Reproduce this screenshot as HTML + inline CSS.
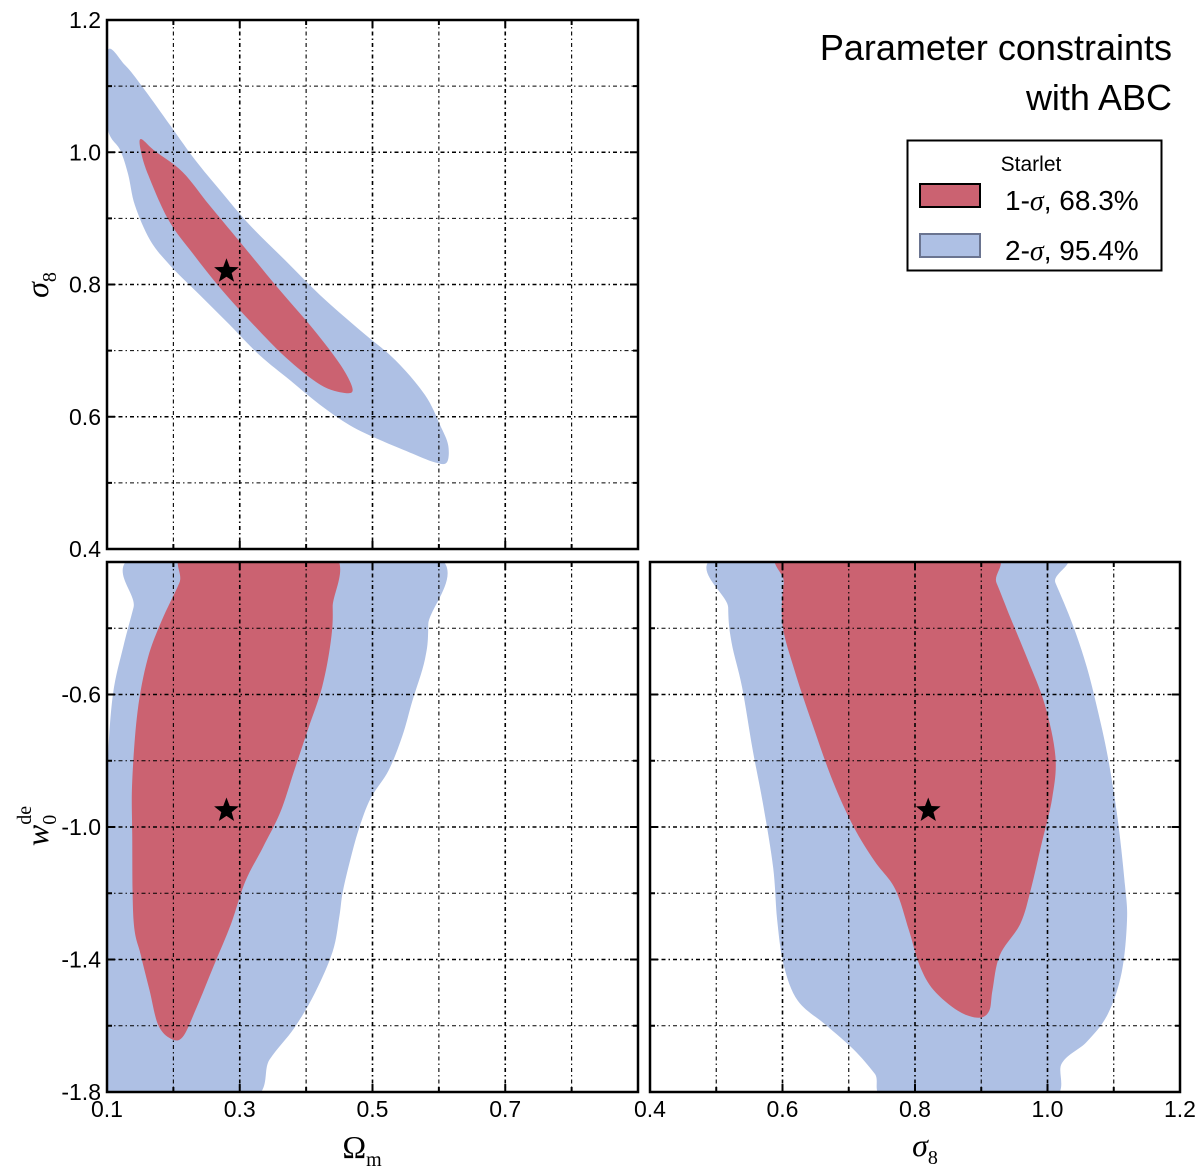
<!DOCTYPE html>
<html><head><meta charset="utf-8">
<style>
html,body{margin:0;padding:0;background:#fff;}
svg{display:block;}
text{font-family:"Liberation Sans",sans-serif;}
.serif{font-family:"Liberation Serif",serif;}
</style></head>
<body>
<svg id="chart" width="1200" height="1168" viewBox="0 0 1200 1168" xmlns="http://www.w3.org/2000/svg">
<defs>
<clipPath id="c1"><rect x="107" y="20" width="531" height="529"/></clipPath>
<clipPath id="c2"><rect x="107" y="562" width="531" height="530"/></clipPath>
<clipPath id="c3"><rect x="650" y="562" width="530" height="530"/></clipPath>
</defs>
<g id="p1"></g>
<g id="p2"></g>
<g id="p3"></g>

<text x="1172" y="60" font-size="36" text-anchor="end">Parameter constraints</text>
<text x="1172" y="110" font-size="36" text-anchor="end">with ABC</text>

<g>
<rect x="907.5" y="140.5" width="254" height="130" fill="#fff" stroke="#000" stroke-width="2"/>
<text x="1031" y="171" font-size="21" text-anchor="middle">Starlet</text>
<rect x="920" y="184" width="60" height="23" fill="#cb6271" stroke="#000" stroke-width="2"/>
<text x="1005" y="210" font-size="28">1-<tspan class="serif" font-style="italic">σ</tspan>, 68.3%</text>
<rect x="920" y="234" width="60" height="23" fill="#aec0e4" stroke="#6a7490" stroke-width="2"/>
<text x="1005" y="260" font-size="28">2-<tspan class="serif" font-style="italic">σ</tspan>, 95.4%</text>
</g>

<text class="serif" x="362" y="1158" font-size="32" text-anchor="middle">Ω<tspan font-size="20" dy="8">m</tspan></text>
<text class="serif" x="925" y="1156" font-size="32" text-anchor="middle" font-style="italic">σ<tspan font-size="20" dy="8" font-style="normal">8</tspan></text>
<text class="serif" transform="translate(48,285) rotate(-90)" font-size="32" text-anchor="middle" font-style="italic">σ<tspan font-size="20" dy="8" font-style="normal">8</tspan></text>
<text class="serif" transform="translate(48,826) rotate(-90)" font-size="32" text-anchor="middle" font-style="italic">w<tspan font-size="20" dy="8" font-style="normal">0</tspan><tspan font-size="20" dx="-10" dy="-25" font-style="normal">de</tspan></text>
</svg>
<script>
// ---- data ----
const star = {om: 0.28, s8: 0.82, w0: -0.95};
// panel 1: Omega_m (x) vs sigma8 (y)
const p1BlueX = [0.1,0.127,0.157,0.195,0.233,0.270,0.315,0.368,0.421,0.481,0.534,0.579,0.602,0.614,0.612,0.594,0.556,0.511,0.466,0.421,0.376,0.330,0.285,0.240,0.195,0.165,0.142,0.132,0.120,0.1];
const p1BlueY = [1.152,1.132,1.094,1.041,0.988,0.943,0.890,0.837,0.784,0.731,0.686,0.633,0.587,0.557,0.531,0.531,0.546,0.565,0.587,0.618,0.655,0.693,0.739,0.784,0.829,0.867,0.920,0.966,1.003,1.041];
const p1RedX = [0.151,0.172,0.214,0.255,0.308,0.359,0.412,0.452,0.470,0.458,0.422,0.370,0.318,0.272,0.230,0.193,0.162,0.151];
const p1RedY = [1.020,1.002,0.970,0.919,0.855,0.793,0.731,0.678,0.642,0.636,0.648,0.689,0.742,0.793,0.846,0.897,0.966,1.002];
// panel 2: Omega_m (x) vs w0 (y)
const p2BlueX = [0.161,0.581,0.584,0.579,0.560,0.545,0.524,0.497,0.479,0.466,0.455,0.450,0.440,0.413,0.382,0.345,0.308,0.09,0.09,0.1,0.101,0.109,0.125,0.140];
const p2BlueY = [-0.17,-0.17,-0.389,-0.494,-0.620,-0.725,-0.830,-0.914,-1.009,-1.103,-1.198,-1.271,-1.376,-1.502,-1.607,-1.702,-1.83,-1.83,-1.229,-1.0,-0.809,-0.599,-0.452,-0.337];
const p2RedX = [0.227,0.434,0.440,0.437,0.424,0.403,0.382,0.361,0.335,0.308,0.287,0.261,0.235,0.214,0.196,0.177,0.164,0.151,0.140,0.138,0.138,0.146,0.161,0.182,0.209];
const p2RedY = [-0.17,-0.17,-0.337,-0.442,-0.578,-0.704,-0.830,-0.956,-1.061,-1.166,-1.292,-1.418,-1.545,-1.634,-1.639,-1.597,-1.492,-1.387,-1.282,-1.019,-0.862,-0.652,-0.494,-0.379,-0.263];
// panel 3: sigma8 (x) vs w0 (y)
const p3BlueX = [0.521,0.991,1.012,1.038,1.059,1.075,1.091,1.106,1.117,1.120,1.112,1.091,1.059,1.022,0.996,0.770,0.739,0.707,0.665,0.623,0.602,0.592,0.586,0.571,0.555,0.539,0.523,0.518];
const p3BlueY = [-0.17,-0.17,-0.263,-0.389,-0.515,-0.641,-0.788,-0.977,-1.177,-1.282,-1.439,-1.565,-1.649,-1.712,-1.83,-1.83,-1.744,-1.671,-1.597,-1.524,-1.418,-1.282,-1.124,-0.935,-0.767,-0.578,-0.442,-0.337];
const p3RedX = [0.613,0.902,0.923,0.944,0.970,0.996,1.012,1.007,0.991,0.975,0.959,0.928,0.917,0.912,0.896,0.865,0.828,0.807,0.791,0.770,0.739,0.707,0.676,0.644,0.618,0.600,0.602];
const p3RedY = [-0.17,-0.17,-0.263,-0.368,-0.494,-0.631,-0.788,-0.914,-1.051,-1.187,-1.292,-1.387,-1.492,-1.555,-1.576,-1.555,-1.492,-1.418,-1.313,-1.187,-1.103,-0.998,-0.862,-0.683,-0.526,-0.389,-0.263];
// ticks
const omTickLabels = ["0.1","0.3","0.5","0.7"];
const s8xTickLabels = ["0.4","0.6","0.8","1.0","1.2"];
const s8yTickLabels = ["0.4","0.6","0.8","1.0","1.2"];
const w0TickLabels = ["-1.8","-1.4","-1.0","-0.6"];

const NS = "http://www.w3.org/2000/svg";
function mk(tag, attrs, parent){const e=document.createElementNS(NS,tag);for(const k in attrs)e.setAttribute(k,attrs[k]);parent.appendChild(e);return e;}
function scale(d0,d1,r0,r1){return v=>r0+(v-d0)/(d1-d0)*(r1-r0);}

function smoothPath(pts){
  const n=pts.length;let d=`M${pts[0][0]},${pts[0][1]}`;
  for(let i=0;i<n;i++){
    const p0=pts[(i-1+n)%n],p1=pts[i],p2=pts[(i+1)%n],p3=pts[(i+2)%n];
    const c1=[p1[0]+(p2[0]-p0[0])/6,p1[1]+(p2[1]-p0[1])/6];
    const c2=[p2[0]-(p3[0]-p1[0])/6,p2[1]-(p3[1]-p1[1])/6];
    d+=`C${c1[0]},${c1[1]} ${c2[0]},${c2[1]} ${p2[0]},${p2[1]}`;
  }
  return d+"Z";
}

function starPath(cx,cy,R){
  const r=R*0.42;let d="";
  for(let i=0;i<10;i++){const a=-Math.PI/2+i*Math.PI/5;const rr=i%2?r:R;d+=(i?"L":"M")+(cx+rr*Math.cos(a))+","+(cy+rr*Math.sin(a));}
  return d+"Z";
}

function panel(g, clip, box, xd, yd, blueX, blueY, redX, redY, sx, sy, xLabels, xLabelVals, yLabels, yLabelVals){
  const X=scale(xd[0],xd[1],box.x0,box.x1), Y=scale(yd[0],yd[1],box.y1,box.y0);
  const cg=mk("g",{"clip-path":`url(#${clip})`},g);
  const blue=mk("path",{d:smoothPath(blueX.map((v,i)=>[X(v),Y(blueY[i])])),fill:"#aec0e4"},cg);
  
  
  const red=mk("path",{d:smoothPath(redX.map((v,i)=>[X(v),Y(redY[i])])),fill:"#cb6271"},cg);
  
  
  const nx=Math.round((xd[1]-xd[0])/0.1), ny=8;
  for(let i=1;i<nx;i++){
    const v=xd[0]+i*0.1, x=X(v);
    const major=(i%2===0);
    const l=mk("line",{x1:x,x2:x,y1:box.y0,y2:box.y1,stroke:"#000","stroke-width":major?1.6:1.1,"stroke-dasharray":"4,3,1.5,3"},g);
    
    
  }
  const ystep=(yd[1]-yd[0])/ny;
  for(let i=1;i<ny;i++){
    const v=yd[0]+i*ystep, y=Y(v);
    const major=(i%2===0);
    const l=mk("line",{x1:box.x0,x2:box.x1,y1:y,y2:y,stroke:"#000","stroke-width":major?1.6:1.1,"stroke-dasharray":"4,3,1.5,3"},g);
    
    
    mk("line",{x1:box.x0,x2:box.x0+(major?8:5),y1:y,y2:y,stroke:"#000","stroke-width":2},g);
    mk("line",{x1:box.x1,x2:box.x1-(major?8:5),y1:y,y2:y,stroke:"#000","stroke-width":2},g);
  }
  for(let i=1;i<nx;i++){
    const x=X(xd[0]+i*0.1);const major=(i%2===0);
    mk("line",{x1:x,x2:x,y1:box.y1,y2:box.y1-(major?8:5),stroke:"#000","stroke-width":2},g);
    mk("line",{x1:x,x2:x,y1:box.y0,y2:box.y0+(major?8:5),stroke:"#000","stroke-width":2},g);
  }
  const s=mk("path",{d:starPath(X(sx),Y(sy),13),fill:"#000"},g);
  
  
  const f=mk("rect",{x:box.x0,y:box.y0,width:box.x1-box.x0,height:box.y1-box.y0,fill:"none",stroke:"#000","stroke-width":2.5},g);
  
  
  if(xLabels){xLabels.forEach((t,i)=>{
    const e=mk("text",{x:X(xLabelVals[i]),y:box.y1+25,"font-size":23,"text-anchor":"middle"},g);e.textContent=t;
    
    
  });}
  if(yLabels){yLabels.forEach((t,i)=>{
    const e=mk("text",{x:box.x0-6,y:Y(yLabelVals[i])+8,"font-size":23,"text-anchor":"end"},g);e.textContent=t;
    
    
  });}
}
const B1={x0:107,x1:638,y0:20,y1:549}, B2={x0:107,x1:638,y0:562,y1:1092}, B3={x0:650,x1:1180,y0:562,y1:1092};
panel(document.getElementById("p1"),"c1",B1,[0.1,0.9],[0.4,1.2],p1BlueX,p1BlueY,p1RedX,p1RedY,star.om,star.s8,null,null,s8yTickLabels,s8yTickLabels.map(Number));
panel(document.getElementById("p2"),"c2",B2,[0.1,0.9],[-1.8,-0.2],p2BlueX,p2BlueY,p2RedX,p2RedY,star.om,star.w0,omTickLabels,omTickLabels.map(Number),w0TickLabels,w0TickLabels.map(Number));
panel(document.getElementById("p3"),"c3",B3,[0.4,1.2],[-1.8,-0.2],p3BlueX,p3BlueY,p3RedX,p3RedY,star.s8,star.w0,s8xTickLabels,s8xTickLabels.map(Number),null,null);
</script>
</body></html>
